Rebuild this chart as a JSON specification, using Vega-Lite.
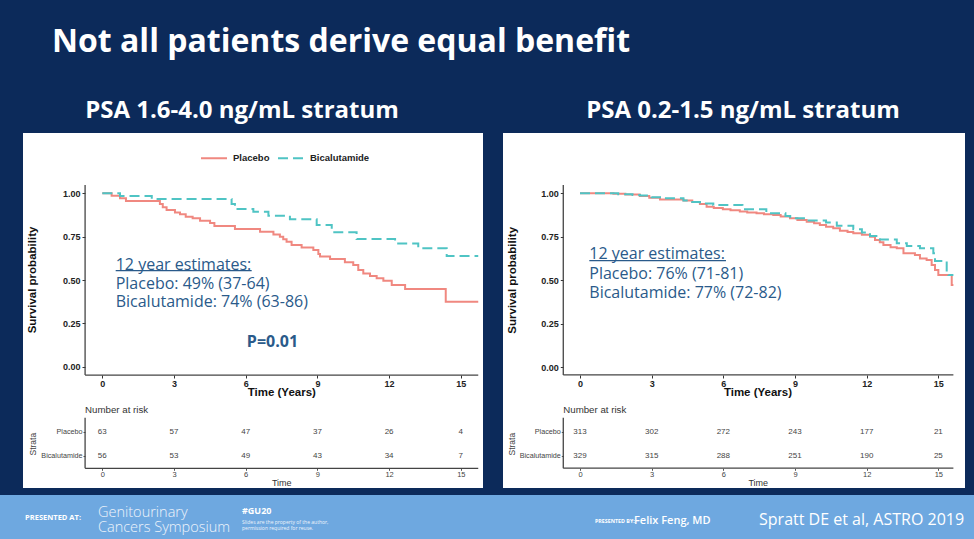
{
  "$schema": "https://vega.github.io/schema/vega-lite/v6.json",
  "background": "#0c2a5a",
  "padding": {"left": 0, "right": 0, "top": 26, "bottom": 0},
  "title": {"text": "Not all patients derive equal benefit", "color": "white", "font": "Open Sans", "fontSize": 32, "fontWeight": "bold", "anchor": "start", "dx": 52, "offset": 40},
  "config": {
    "view": {"stroke": null},
    "axis": {"grid": false, "domain": false, "labelFont": "Liberation Sans", "titleFont": "Liberation Sans", "labelFlush": false},
    "text": {"font": "Liberation Sans"}
  },
  "spacing": 6,
  "vconcat": [
    {
      "spacing": 20,
      "hconcat": [
        {"width": 3, "height": 355, "data": {"values": []}, "mark": "text"},
        {
          "width": 460, "height": 355,
          "view": {"fill": "white", "stroke": null},
          "title": {"text": "PSA 1.6-4.0 ng/mL stratum", "color": "white", "font": "Open Sans", "fontSize": 24, "fontWeight": "bold", "anchor": "middle", "dx": -11, "offset": 10},
          "resolve": {"scale": {"x": "independent", "y": "independent"}},
          "layer": [
            {
              "layer": [
                {
                  "data": {"values": [
                    {"arm": "Placebo", "time": 0, "surv": 1.0},
                    {"arm": "Placebo", "time": 0.39, "surv": 0.986},
                    {"arm": "Placebo", "time": 0.74, "surv": 0.971},
                    {"arm": "Placebo", "time": 0.99, "surv": 0.956},
                    {"arm": "Placebo", "time": 2.41, "surv": 0.938},
                    {"arm": "Placebo", "time": 2.53, "surv": 0.919},
                    {"arm": "Placebo", "time": 2.69, "surv": 0.904},
                    {"arm": "Placebo", "time": 3.04, "surv": 0.89},
                    {"arm": "Placebo", "time": 3.25, "surv": 0.879},
                    {"arm": "Placebo", "time": 3.49, "surv": 0.865},
                    {"arm": "Placebo", "time": 3.78, "surv": 0.856},
                    {"arm": "Placebo", "time": 4.09, "surv": 0.842},
                    {"arm": "Placebo", "time": 4.51, "surv": 0.829},
                    {"arm": "Placebo", "time": 4.69, "surv": 0.811},
                    {"arm": "Placebo", "time": 5.55, "surv": 0.794},
                    {"arm": "Placebo", "time": 6.6, "surv": 0.779},
                    {"arm": "Placebo", "time": 7.16, "surv": 0.763},
                    {"arm": "Placebo", "time": 7.43, "surv": 0.75},
                    {"arm": "Placebo", "time": 7.57, "surv": 0.735},
                    {"arm": "Placebo", "time": 7.71, "surv": 0.721},
                    {"arm": "Placebo", "time": 7.92, "surv": 0.702},
                    {"arm": "Placebo", "time": 8.34, "surv": 0.688},
                    {"arm": "Placebo", "time": 8.83, "surv": 0.673},
                    {"arm": "Placebo", "time": 9.04, "surv": 0.65},
                    {"arm": "Placebo", "time": 9.11, "surv": 0.635},
                    {"arm": "Placebo", "time": 9.53, "surv": 0.621},
                    {"arm": "Placebo", "time": 10.15, "surv": 0.602},
                    {"arm": "Placebo", "time": 10.5, "surv": 0.587},
                    {"arm": "Placebo", "time": 10.71, "surv": 0.558},
                    {"arm": "Placebo", "time": 10.92, "surv": 0.538},
                    {"arm": "Placebo", "time": 11.2, "surv": 0.523},
                    {"arm": "Placebo", "time": 11.48, "surv": 0.51},
                    {"arm": "Placebo", "time": 11.76, "surv": 0.496},
                    {"arm": "Placebo", "time": 12.11, "surv": 0.471},
                    {"arm": "Placebo", "time": 12.67, "surv": 0.448},
                    {"arm": "Placebo", "time": 14.37, "surv": 0.375},
                    {"arm": "Placebo", "time": 15.73, "surv": 0.375},
                    {"arm": "Bicalutamide", "time": 0, "surv": 1.0},
                    {"arm": "Bicalutamide", "time": 0.74, "surv": 0.984},
                    {"arm": "Bicalutamide", "time": 2.07, "surv": 0.967},
                    {"arm": "Bicalutamide", "time": 5.41, "surv": 0.938},
                    {"arm": "Bicalutamide", "time": 5.55, "surv": 0.909},
                    {"arm": "Bicalutamide", "time": 6.32, "surv": 0.894},
                    {"arm": "Bicalutamide", "time": 6.95, "surv": 0.871},
                    {"arm": "Bicalutamide", "time": 7.85, "surv": 0.85},
                    {"arm": "Bicalutamide", "time": 8.97, "surv": 0.817},
                    {"arm": "Bicalutamide", "time": 9.6, "surv": 0.775},
                    {"arm": "Bicalutamide", "time": 10.64, "surv": 0.736},
                    {"arm": "Bicalutamide", "time": 12.25, "surv": 0.711},
                    {"arm": "Bicalutamide", "time": 13.22, "surv": 0.683},
                    {"arm": "Bicalutamide", "time": 14.41, "surv": 0.638},
                    {"arm": "Bicalutamide", "time": 15.73, "surv": 0.638}
                  ]},
                  "mark": {"type": "line", "interpolate": "step-after", "strokeWidth": 2},
                  "encoding": {
                    "x": {"field": "time", "type": "quantitative", "scale": {"domain": [-3.318, 15.929], "nice": false, "zero": false},
                      "axis": {"orient": "bottom", "offset": -113, "values": [0, 3, 6, 9, 12, 15], "format": "d", "title": null, "tickSize": 3, "tickColor": "#333", "labelFontSize": 9, "labelFontWeight": "bold", "labelColor": "#222", "labelPadding": 1}},
                    "y": {"field": "surv", "type": "quantitative", "scale": {"domain": [-0.6995, 1.3478], "nice": false, "zero": false},
                      "axis": {"orient": "left", "offset": -62, "values": [0, 0.25, 0.5, 0.75, 1], "format": ".2f", "title": null, "tickSize": 3, "tickColor": "#333", "labelFontSize": 9, "labelFontWeight": "bold", "labelColor": "#222", "labelPadding": 2}},
                    "color": {"field": "arm", "type": "nominal", "scale": {"domain": ["Placebo", "Bicalutamide"], "range": ["#F08880", "#4FC4C4"]},
                      "legend": {"orient": "none", "legendX": 200, "legendY": 11, "direction": "horizontal", "title": null, "symbolType": "stroke", "symbolSize": 676, "symbolStrokeWidth": 2, "labelFont": "Liberation Sans", "labelFontWeight": "bold", "labelFontSize": 9.5, "labelColor": "#222", "labelOffset": 5, "columnPadding": 4, "padding": 0}},
                    "strokeDash": {"field": "arm", "type": "nominal", "scale": {"domain": ["Placebo", "Bicalutamide"], "range": [[1, 0], [10, 5]]},
                      "legend": {"orient": "none", "legendX": 200, "legendY": 11, "direction": "horizontal", "title": null, "symbolType": "stroke", "symbolSize": 676, "symbolStrokeWidth": 2, "labelFont": "Liberation Sans", "labelFontWeight": "bold", "labelFontSize": 9.5, "labelColor": "#222", "labelOffset": 5, "columnPadding": 4, "padding": 0}}
                  }
                },
                {"data": {"values": [{}]}, "mark": {"type": "rule", "color": "#444", "strokeWidth": 1.3},
                  "encoding": {"x": {"datum": -0.72}, "y": {"datum": -0.048}, "y2": {"datum": 1.048}}},
                {"data": {"values": [{}]}, "mark": {"type": "rule", "color": "#444", "strokeWidth": 1.3},
                  "encoding": {"x": {"datum": -0.72}, "x2": {"datum": 15.73}, "y": {"datum": -0.048}}},
                {"data": {"values": [{}]}, "mark": {"type": "rule", "color": "#444", "strokeWidth": 1.3},
                  "encoding": {"x": {"datum": -0.72}, "y": {"datum": -0.586}, "y2": {"datum": -0.294}}},
                {"data": {"values": [{}]}, "mark": {"type": "rule", "color": "#444", "strokeWidth": 1.3},
                  "encoding": {"x": {"datum": -0.72}, "x2": {"datum": 15.73}, "y": {"datum": -0.586}}},
                {"data": {"values": [{}]}, "mark": {"type": "rule", "color": "#2a5a8a", "strokeWidth": 1.3},
                  "encoding": {"x": {"datum": 0.56}, "x2": {"datum": 6.25}, "y": {"datum": 0.554}}},
                {"data": {"values": [{}]}, "mark": {"type": "text", "font": "Open Sans", "fontSize": 16, "color": "#2a5a8a", "align": "left", "baseline": "middle"},
                  "encoding": {"x": {"datum": 0.56}, "y": {"datum": 0.587}, "text": {"value": "12 year estimates:"}}},
                {"data": {"values": [{}]}, "mark": {"type": "text", "font": "Open Sans", "fontSize": 16, "color": "#2a5a8a", "align": "left", "baseline": "middle"},
                  "encoding": {"x": {"datum": 0.56}, "y": {"datum": 0.477}, "text": {"value": "Placebo: 49% (37-64)"}}},
                {"data": {"values": [{}]}, "mark": {"type": "text", "font": "Open Sans", "fontSize": 16, "color": "#2a5a8a", "align": "left", "baseline": "middle"},
                  "encoding": {"x": {"datum": 0.56}, "y": {"datum": 0.371}, "text": {"value": "Bicalutamide: 74% (63-86)"}}},
                {"data": {"values": [{}]}, "mark": {"type": "text", "font": "Open Sans", "fontSize": 16, "fontWeight": "bold", "color": "#2a5a8a", "align": "center", "baseline": "middle"},
                  "encoding": {"x": {"datum": 7.12}, "y": {"datum": 0.144}, "text": {"value": "P=0.01"}}},
                {"data": {"values": [{}]}, "mark": {"type": "text", "fontSize": 11.5, "fontWeight": "bold", "color": "#111", "align": "center", "baseline": "middle", "angle": 270},
                  "encoding": {"x": {"datum": -2.9}, "y": {"datum": 0.5}, "text": {"value": "Survival probability"}}},
                {"data": {"values": [{}]}, "mark": {"type": "text", "fontSize": 11.5, "fontWeight": "bold", "color": "#111", "align": "center", "baseline": "middle"},
                  "encoding": {"x": {"datum": 7.51}, "y": {"datum": -0.153}, "text": {"value": "Time (Years)"}}},
                {"data": {"values": [{}]}, "mark": {"type": "text", "fontSize": 9.7, "color": "#333", "align": "left", "baseline": "middle"},
                  "encoding": {"x": {"datum": -0.72}, "y": {"datum": -0.25}, "text": {"value": "Number at risk"}}},
                {"data": {"values": [{}]}, "mark": {"type": "text", "fontSize": 9, "color": "#333", "align": "center", "baseline": "middle"},
                  "encoding": {"x": {"datum": 7.51}, "y": {"datum": -0.672}, "text": {"value": "Time"}}}
              ]
            },
            {
              "data": {"values": [
                {"arm": "Placebo", "time": 0, "n": 63}, {"arm": "Placebo", "time": 3, "n": 57}, {"arm": "Placebo", "time": 6, "n": 47},
                {"arm": "Placebo", "time": 9, "n": 37}, {"arm": "Placebo", "time": 12, "n": 26}, {"arm": "Placebo", "time": 15, "n": 4},
                {"arm": "Bicalutamide", "time": 0, "n": 56}, {"arm": "Bicalutamide", "time": 3, "n": 53}, {"arm": "Bicalutamide", "time": 6, "n": 49},
                {"arm": "Bicalutamide", "time": 9, "n": 43}, {"arm": "Bicalutamide", "time": 12, "n": 34}, {"arm": "Bicalutamide", "time": 15, "n": 7}
              ]},
              "mark": {"type": "text", "fontSize": 8, "color": "#444", "baseline": "middle"},
              "encoding": {
                "x": {"field": "time", "type": "quantitative", "scale": {"domain": [-3.318, 15.929], "nice": false, "zero": false},
                  "axis": {"orient": "bottom", "offset": -19.7, "values": [0, 3, 6, 9, 12, 15], "format": "d", "title": null, "tickSize": 2, "tickColor": "#555", "labelFontSize": 7.5, "labelColor": "#444", "labelPadding": 0}},
                "y": {"field": "arm", "type": "nominal", "scale": {"type": "point", "domain": ["Placebo", "Bicalutamide"], "range": [298.7, 322.7], "padding": 0},
                  "axis": {"orient": "left", "offset": -62, "title": "Strata", "titleFontSize": 8.5, "titleFontWeight": "normal", "titleColor": "#444", "titlePadding": 3, "labelFontSize": 7.2, "labelColor": "#444", "tickSize": 2, "tickColor": "#555", "labelPadding": 1}},
                "text": {"field": "n", "type": "quantitative"}
              }
            }
          ]
        },
        {
          "width": 462, "height": 355,
          "view": {"fill": "white", "stroke": null},
          "title": {"text": "PSA 0.2-1.5 ng/mL stratum", "color": "white", "font": "Open Sans", "fontSize": 24, "fontWeight": "bold", "anchor": "middle", "dx": 9, "offset": 10},
          "resolve": {"scale": {"x": "independent", "y": "independent"}},
          "layer": [
            {
              "layer": [
                {
                  "data": {"values": [
                    {"arm": "Placebo", "time": 0, "surv": 1.0},
                    {"arm": "Placebo", "time": 1.4, "surv": 0.997},
                    {"arm": "Placebo", "time": 1.9, "surv": 0.993},
                    {"arm": "Placebo", "time": 2.5, "surv": 0.984},
                    {"arm": "Placebo", "time": 2.9, "surv": 0.975},
                    {"arm": "Placebo", "time": 3.35, "surv": 0.965},
                    {"arm": "Placebo", "time": 4.33, "surv": 0.958},
                    {"arm": "Placebo", "time": 4.7, "surv": 0.95},
                    {"arm": "Placebo", "time": 5.02, "surv": 0.939},
                    {"arm": "Placebo", "time": 5.3, "surv": 0.923},
                    {"arm": "Placebo", "time": 5.6, "surv": 0.915},
                    {"arm": "Placebo", "time": 5.98, "surv": 0.908},
                    {"arm": "Placebo", "time": 6.3, "surv": 0.902},
                    {"arm": "Placebo", "time": 6.69, "surv": 0.895},
                    {"arm": "Placebo", "time": 7.0, "surv": 0.89},
                    {"arm": "Placebo", "time": 7.39, "surv": 0.885},
                    {"arm": "Placebo", "time": 7.7, "surv": 0.88},
                    {"arm": "Placebo", "time": 8.09, "surv": 0.875},
                    {"arm": "Placebo", "time": 8.4, "surv": 0.866},
                    {"arm": "Placebo", "time": 8.79, "surv": 0.856},
                    {"arm": "Placebo", "time": 9.1, "surv": 0.846},
                    {"arm": "Placebo", "time": 9.49, "surv": 0.837},
                    {"arm": "Placebo", "time": 9.8, "surv": 0.828},
                    {"arm": "Placebo", "time": 10.04, "surv": 0.818},
                    {"arm": "Placebo", "time": 10.3, "surv": 0.808},
                    {"arm": "Placebo", "time": 10.6, "surv": 0.799},
                    {"arm": "Placebo", "time": 10.88, "surv": 0.785},
                    {"arm": "Placebo", "time": 11.2, "surv": 0.778},
                    {"arm": "Placebo", "time": 11.44, "surv": 0.77},
                    {"arm": "Placebo", "time": 11.8, "surv": 0.762},
                    {"arm": "Placebo", "time": 12.14, "surv": 0.751},
                    {"arm": "Placebo", "time": 12.35, "surv": 0.732},
                    {"arm": "Placebo", "time": 12.55, "surv": 0.718},
                    {"arm": "Placebo", "time": 12.7, "surv": 0.703},
                    {"arm": "Placebo", "time": 13.0, "surv": 0.69},
                    {"arm": "Placebo", "time": 13.26, "surv": 0.684},
                    {"arm": "Placebo", "time": 13.54, "surv": 0.655},
                    {"arm": "Placebo", "time": 14.02, "surv": 0.645},
                    {"arm": "Placebo", "time": 14.23, "surv": 0.626},
                    {"arm": "Placebo", "time": 14.51, "surv": 0.617},
                    {"arm": "Placebo", "time": 14.72, "surv": 0.588},
                    {"arm": "Placebo", "time": 14.86, "surv": 0.559},
                    {"arm": "Placebo", "time": 15.0, "surv": 0.53},
                    {"arm": "Placebo", "time": 15.56, "surv": 0.473},
                    {"arm": "Placebo", "time": 15.63, "surv": 0.473},
                    {"arm": "Bicalutamide", "time": 0, "surv": 1.0},
                    {"arm": "Bicalutamide", "time": 1.6, "surv": 0.995},
                    {"arm": "Bicalutamide", "time": 2.2, "surv": 0.99},
                    {"arm": "Bicalutamide", "time": 2.51, "surv": 0.988},
                    {"arm": "Bicalutamide", "time": 3.0, "surv": 0.978},
                    {"arm": "Bicalutamide", "time": 3.35, "surv": 0.971},
                    {"arm": "Bicalutamide", "time": 4.33, "surv": 0.958},
                    {"arm": "Bicalutamide", "time": 4.7, "surv": 0.95},
                    {"arm": "Bicalutamide", "time": 5.02, "surv": 0.942},
                    {"arm": "Bicalutamide", "time": 5.58, "surv": 0.933},
                    {"arm": "Bicalutamide", "time": 6.8, "surv": 0.908},
                    {"arm": "Bicalutamide", "time": 7.8, "surv": 0.885},
                    {"arm": "Bicalutamide", "time": 8.6, "surv": 0.87},
                    {"arm": "Bicalutamide", "time": 8.8, "surv": 0.856},
                    {"arm": "Bicalutamide", "time": 9.49, "surv": 0.843},
                    {"arm": "Bicalutamide", "time": 10.3, "surv": 0.832},
                    {"arm": "Bicalutamide", "time": 10.75, "surv": 0.813},
                    {"arm": "Bicalutamide", "time": 11.44, "surv": 0.793},
                    {"arm": "Bicalutamide", "time": 11.8, "surv": 0.775},
                    {"arm": "Bicalutamide", "time": 12.14, "surv": 0.755},
                    {"arm": "Bicalutamide", "time": 12.56, "surv": 0.735},
                    {"arm": "Bicalutamide", "time": 13.26, "surv": 0.713},
                    {"arm": "Bicalutamide", "time": 13.68, "surv": 0.697},
                    {"arm": "Bicalutamide", "time": 14.23, "surv": 0.684},
                    {"arm": "Bicalutamide", "time": 14.79, "surv": 0.655},
                    {"arm": "Bicalutamide", "time": 14.86, "surv": 0.611},
                    {"arm": "Bicalutamide", "time": 15.35, "surv": 0.55},
                    {"arm": "Bicalutamide", "time": 15.42, "surv": 0.53},
                    {"arm": "Bicalutamide", "time": 15.63, "surv": 0.53}
                  ]},
                  "mark": {"type": "line", "interpolate": "step-after", "strokeWidth": 2},
                  "encoding": {
                    "x": {"field": "time", "type": "quantitative", "scale": {"domain": [-3.223, 16.116], "nice": false, "zero": false},
                      "axis": {"orient": "bottom", "offset": -113, "values": [0, 3, 6, 9, 12, 15], "format": "d", "title": null, "tickSize": 3, "tickColor": "#333", "labelFontSize": 9, "labelFontWeight": "bold", "labelColor": "#222", "labelPadding": 1}},
                    "y": {"field": "surv", "type": "quantitative", "scale": {"domain": [-0.6937, 1.3466], "nice": false, "zero": false},
                      "axis": {"orient": "left", "offset": -60.3, "values": [0, 0.25, 0.5, 0.75, 1], "format": ".2f", "title": null, "tickSize": 3, "tickColor": "#333", "labelFontSize": 9, "labelFontWeight": "bold", "labelColor": "#222", "labelPadding": 2}},
                    "color": {"field": "arm", "type": "nominal", "scale": {"domain": ["Placebo", "Bicalutamide"], "range": ["#F08880", "#4FC4C4"]},
                      "legend": {"orient": "none", "legendX": 198, "legendY": 11, "direction": "horizontal", "title": null, "symbolType": "stroke", "symbolSize": 676, "symbolStrokeWidth": 2, "labelFont": "Liberation Sans", "labelFontWeight": "bold", "labelFontSize": 9.5, "labelColor": "#222", "labelOffset": 5, "columnPadding": 4, "padding": 0}},
                    "strokeDash": {"field": "arm", "type": "nominal", "scale": {"domain": ["Placebo", "Bicalutamide"], "range": [[1, 0], [10, 5]]},
                      "legend": {"orient": "none", "legendX": 198, "legendY": 11, "direction": "horizontal", "title": null, "symbolType": "stroke", "symbolSize": 676, "symbolStrokeWidth": 2, "labelFont": "Liberation Sans", "labelFontWeight": "bold", "labelFontSize": 9.5, "labelColor": "#222", "labelOffset": 5, "columnPadding": 4, "padding": 0}}
                  }
                },
                {"data": {"values": [{}]}, "mark": {"type": "rule", "color": "#444", "strokeWidth": 1.3},
                  "encoding": {"x": {"datum": -0.7}, "y": {"datum": -0.044}, "y2": {"datum": 1.048}}},
                {"data": {"values": [{}]}, "mark": {"type": "rule", "color": "#444", "strokeWidth": 1.3},
                  "encoding": {"x": {"datum": -0.7}, "x2": {"datum": 15.63}, "y": {"datum": -0.044}}},
                {"data": {"values": [{}]}, "mark": {"type": "rule", "color": "#444", "strokeWidth": 1.3},
                  "encoding": {"x": {"datum": -0.7}, "y": {"datum": -0.58}, "y2": {"datum": -0.29}}},
                {"data": {"values": [{}]}, "mark": {"type": "rule", "color": "#444", "strokeWidth": 1.3},
                  "encoding": {"x": {"datum": -0.7}, "x2": {"datum": 15.63}, "y": {"datum": -0.58}}},
                {"data": {"values": [{}]}, "mark": {"type": "rule", "color": "#2a5a8a", "strokeWidth": 1.3},
                  "encoding": {"x": {"datum": 0.39}, "x2": {"datum": 6.11}, "y": {"datum": 0.613}}},
                {"data": {"values": [{}]}, "mark": {"type": "text", "font": "Open Sans", "fontSize": 16, "color": "#2a5a8a", "align": "left", "baseline": "middle"},
                  "encoding": {"x": {"datum": 0.39}, "y": {"datum": 0.651}, "text": {"value": "12 year estimates:"}}},
                {"data": {"values": [{}]}, "mark": {"type": "text", "font": "Open Sans", "fontSize": 16, "color": "#2a5a8a", "align": "left", "baseline": "middle"},
                  "encoding": {"x": {"datum": 0.39}, "y": {"datum": 0.536}, "text": {"value": "Placebo: 76% (71-81)"}}},
                {"data": {"values": [{}]}, "mark": {"type": "text", "font": "Open Sans", "fontSize": 16, "color": "#2a5a8a", "align": "left", "baseline": "middle"},
                  "encoding": {"x": {"datum": 0.39}, "y": {"datum": 0.425}, "text": {"value": "Bicalutamide: 77% (72-82)"}}},
                {"data": {"values": [{}]}, "mark": {"type": "text", "fontSize": 11.5, "fontWeight": "bold", "color": "#111", "align": "center", "baseline": "middle", "angle": 270},
                  "encoding": {"x": {"datum": -2.79}, "y": {"datum": 0.5}, "text": {"value": "Survival probability"}}},
                {"data": {"values": [{}]}, "mark": {"type": "text", "fontSize": 11.5, "fontWeight": "bold", "color": "#111", "align": "center", "baseline": "middle"},
                  "encoding": {"x": {"datum": 7.45}, "y": {"datum": -0.149}, "text": {"value": "Time (Years)"}}},
                {"data": {"values": [{}]}, "mark": {"type": "text", "fontSize": 9.7, "color": "#333", "align": "left", "baseline": "middle"},
                  "encoding": {"x": {"datum": -0.7}, "y": {"datum": -0.245}, "text": {"value": "Number at risk"}}},
                {"data": {"values": [{}]}, "mark": {"type": "text", "fontSize": 9, "color": "#333", "align": "center", "baseline": "middle"},
                  "encoding": {"x": {"datum": 7.46}, "y": {"datum": -0.667}, "text": {"value": "Time"}}}
              ]
            },
            {
              "data": {"values": [
                {"arm": "Placebo", "time": 0, "n": 313}, {"arm": "Placebo", "time": 3, "n": 302}, {"arm": "Placebo", "time": 6, "n": 272},
                {"arm": "Placebo", "time": 9, "n": 243}, {"arm": "Placebo", "time": 12, "n": 177}, {"arm": "Placebo", "time": 15, "n": 21},
                {"arm": "Bicalutamide", "time": 0, "n": 329}, {"arm": "Bicalutamide", "time": 3, "n": 315}, {"arm": "Bicalutamide", "time": 6, "n": 288},
                {"arm": "Bicalutamide", "time": 9, "n": 251}, {"arm": "Bicalutamide", "time": 12, "n": 190}, {"arm": "Bicalutamide", "time": 15, "n": 25}
              ]},
              "mark": {"type": "text", "fontSize": 8, "color": "#444", "baseline": "middle"},
              "encoding": {
                "x": {"field": "time", "type": "quantitative", "scale": {"domain": [-3.223, 16.116], "nice": false, "zero": false},
                  "axis": {"orient": "bottom", "offset": -19.7, "values": [0, 3, 6, 9, 12, 15], "format": "d", "title": null, "tickSize": 2, "tickColor": "#555", "labelFontSize": 7.5, "labelColor": "#444", "labelPadding": 0}},
                "y": {"field": "arm", "type": "nominal", "scale": {"type": "point", "domain": ["Placebo", "Bicalutamide"], "range": [298.7, 322.7], "padding": 0},
                  "axis": {"orient": "left", "offset": -60.3, "title": "Strata", "titleFontSize": 8.5, "titleFontWeight": "normal", "titleColor": "#444", "titlePadding": 3, "labelFontSize": 7.2, "labelColor": "#444", "tickSize": 2, "tickColor": "#555", "labelPadding": 1}},
                "text": {"field": "n", "type": "quantitative"}
              }
            }
          ]
        }
      ]
    },
    {
      "width": 974, "height": 45,
      "view": {"fill": "#6ea8e0", "stroke": null},
      "data": {"values": [{}]},
      "encoding": {
        "x": {"datum": 0, "type": "quantitative", "scale": {"domain": [0, 100], "nice": false, "zero": false}, "axis": null},
        "y": {"datum": 0, "type": "quantitative", "scale": {"domain": [0, 1], "reverse": true, "nice": false, "zero": false}, "axis": null}
      },
      "layer": [
        {"mark": {"type": "text", "font": "Open Sans", "fontSize": 7.5, "fontWeight": "bold", "color": "white", "align": "left", "baseline": "middle"},
          "encoding": {"x": {"datum": 2.57}, "y": {"datum": 0.51}, "text": {"value": "PRESENTED AT:"}}},
        {"mark": {"type": "text", "font": "Open Sans", "fontSize": 14.5, "fontWeight": 300, "color": "#eef4fb", "align": "left", "baseline": "middle", "lineHeight": 15},
          "encoding": {"x": {"datum": 10.06}, "y": {"datum": 0.39}, "text": {"value": ["Genitourinary", "Cancers Symposium"]}}},
        {"mark": {"type": "text", "font": "Open Sans", "fontSize": 9, "fontWeight": "bold", "color": "white", "align": "left", "baseline": "middle"},
          "encoding": {"x": {"datum": 24.85}, "y": {"datum": 0.36}, "text": {"value": "#GU20"}}},
        {"mark": {"type": "text", "font": "Open Sans", "fontSize": 5, "color": "#eef4fb", "align": "left", "baseline": "middle", "lineHeight": 6},
          "encoding": {"x": {"datum": 24.85}, "y": {"datum": 0.6}, "text": {"value": ["Slides are the property of the author,", "permission required for reuse."]}}},
        {"mark": {"type": "text", "font": "Open Sans", "fontSize": 5.3, "fontWeight": "bold", "color": "white", "align": "left", "baseline": "middle"},
          "encoding": {"x": {"datum": 61.09}, "y": {"datum": 0.578}, "text": {"value": "PRESENTED BY:"}}},
        {"mark": {"type": "text", "font": "Open Sans", "fontSize": 11, "fontWeight": 600, "color": "white", "align": "left", "baseline": "middle"},
          "encoding": {"x": {"datum": 65.09}, "y": {"datum": 0.578}, "text": {"value": "Felix Feng, MD"}}},
        {"mark": {"type": "text", "font": "Open Sans", "fontSize": 16, "color": "white", "align": "left", "baseline": "middle"},
          "encoding": {"x": {"datum": 77.93}, "y": {"datum": 0.556}, "text": {"value": "Spratt DE et al, ASTRO 2019"}}}
      ]
    }
  ]
}
